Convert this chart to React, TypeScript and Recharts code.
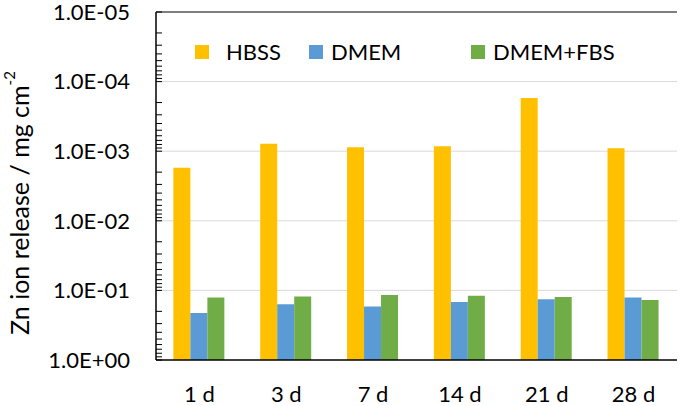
import { BarChart, Bar, XAxis, YAxis, CartesianGrid, ReferenceLine } from 'recharts'

const days = ['1 d', '3 d', '7 d', '14 d', '21 d', '28 d']
// Zn ion release, mg cm-2
const hbss = [1.73e-3, 7.8e-4, 8.8e-4, 8.5e-4, 1.72e-4, 9.1e-4]
const dmem = [0.211, 0.158, 0.171, 0.147, 0.134, 0.127]
const dmemFbs = [0.126, 0.122, 0.116, 0.119, 0.124, 0.137]

// axis runs 1.0E+00 (bottom) to 1.0E-05 (top)
const yTickLabels = ['1.0E+00', '1.0E-01', '1.0E-02', '1.0E-03', '1.0E-04', '1.0E-05']

const SERIES = [
  { key: 'hbss', name: 'HBSS', color: '#FFC000' },
  { key: 'dmem', name: 'DMEM', color: '#5B9BD5' },
  { key: 'dmemFbs', name: 'DMEM+FBS', color: '#70AD47' },
]

const FONT = 'Lato, "Noto Sans", sans-serif'

// plotted value = decades below 1, so bars grow up from 1.0E+00
const depth = (v: number) => -Math.log10(v)

const data = days.map((day, i) => ({
  day,
  hbss: depth(hbss[i]),
  dmem: depth(dmem[i]),
  dmemFbs: depth(dmemFbs[i]),
}))

const DECADES = yTickLabels.length - 1
const majorTicks = yTickLabels.map((_, i) => i)
const minorTicks: number[] = []
for (let n = 1; n <= DECADES; n++) {
  for (let k = 2; k <= 9; k++) minorTicks.push(n - Math.log10(k))
}
const allTicks = [...majorTicks, ...minorTicks].sort((a, b) => a - b)

function YTitle(props: any) {
  const vb = props.viewBox || { x: 0, y: 0, height: 0 }
  const x = vb.x + 19
  const y = vb.y + vb.height / 2 + 17
  return (
    <text
      x={x}
      y={y}
      transform={`rotate(-90, ${x}, ${y})`}
      textAnchor="middle"
      dominantBaseline="central"
      fill="#000"
      fontSize={25}
      fontFamily={FONT}
    >
      Zn ion release / mg cm
      <tspan dy={-10} fontSize={15}>-2</tspan>
    </text>
  )
}

const legendWidths = [114, 162, undefined]
const legendGaps = [17, 8, 8]

export default function App() {
  return (
    <div style={{ position: 'absolute', left: 0, top: 0, width: 680, height: 406, background: '#fff' }}>
      <BarChart
        width={680}
        height={406}
        data={data}
        margin={{ top: 12, right: 3, left: 0, bottom: 0 }}
        barCategoryGap="20%"
        barGap={0}
        style={{ fontFamily: FONT }}
      >
        <CartesianGrid horizontal vertical={false} horizontalValues={[1, 2, 3, 4]} stroke="#d9d9d9" />
        <XAxis
          dataKey="day"
          height={46}
          tickLine={false}
          tickSize={0}
          tickMargin={26}
          axisLine={{ stroke: '#000', strokeWidth: 1.5 }}
          tick={{ fill: '#000', fontSize: 22, fontFamily: FONT }}
        />
        <YAxis
          type="number"
          domain={[0, DECADES]}
          ticks={allTicks}
          interval={0}
          width={156}
          tickSize={-6}
          tickMargin={32}
          tickFormatter={(v: number) => (Number.isInteger(v) ? yTickLabels[v] : '')}
          tickLine={{ stroke: '#000' }}
          axisLine={{ stroke: '#000', strokeWidth: 1.5 }}
          tick={{ fill: '#000', fontSize: 22, fontFamily: FONT }}
          label={<YTitle />}
        />
        <YAxis
          yAxisId="right"
          orientation="right"
          domain={[0, DECADES]}
          width={0}
          tick={false}
          tickLine={false}
          axisLine={{ stroke: '#000', strokeWidth: 1.2 }}
        />
        <ReferenceLine y={DECADES} stroke="#000" strokeWidth={1.2} />
        {SERIES.map((s) => (
          <Bar key={s.key} dataKey={s.key} name={s.name} fill={s.color} isAnimationActive={false} />
        ))}
      </BarChart>
      <div
        style={{
          position: 'absolute',
          left: 195,
          top: 41,
          display: 'flex',
          alignItems: 'center',
          fontFamily: FONT,
          fontSize: 22,
          lineHeight: '22px',
          color: '#000',
        }}
      >
        {SERIES.map((s, i) => (
          <div key={s.key} style={{ display: 'flex', alignItems: 'center', width: legendWidths[i] }}>
            <span style={{ width: 14, height: 14, background: s.color, marginRight: legendGaps[i] }} />
            <span>{s.name}</span>
          </div>
        ))}
      </div>
    </div>
  )
}
